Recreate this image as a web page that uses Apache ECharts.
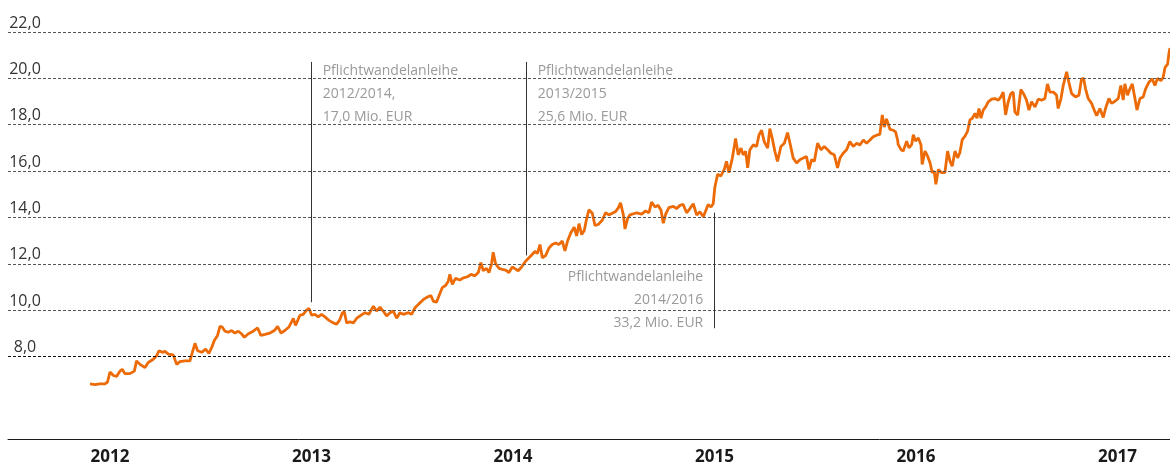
<!DOCTYPE html>
<html>
<head>
<meta charset="utf-8">
<script src="https://cdn.jsdelivr.net/npm/echarts@6/dist/echarts.min.js"></script>
<style>
html, body { margin: 0; padding: 0; background: #fff; }
#container { width: 1170px; height: 466px; }
</style>
</head>
<body>
<div id="container"></div>
<script>
// Kursverlauf, x als Dezimaljahr
const years = [
    2011.901, 2011.926, 2011.950, 2011.975, 2011.988, 2012.000, 2012.017, 2012.033, 2012.050, 2012.061,
    2012.074, 2012.099, 2012.121, 2012.132, 2012.149, 2012.174, 2012.190, 2012.215, 2012.232, 2012.243,
    2012.260, 2012.273, 2012.290, 2012.314, 2012.331, 2012.347, 2012.372, 2012.397, 2012.409, 2012.422,
    2012.435, 2012.455, 2012.475, 2012.491, 2012.505, 2012.518, 2012.534, 2012.546, 2012.557, 2012.571,
    2012.587, 2012.604, 2012.620, 2012.637, 2012.653, 2012.667, 2012.687, 2012.711, 2012.733, 2012.749,
    2012.769, 2012.794, 2012.816, 2012.832, 2012.849, 2012.868, 2012.888, 2012.910, 2012.921, 2012.943,
    2012.959, 2012.976, 2012.988, 2013.001, 2013.017, 2013.034, 2013.050, 2013.067, 2013.087, 2013.108,
    2013.125, 2013.141, 2013.153, 2013.163, 2013.175, 2013.191, 2013.208, 2013.224,
    2013.241, 2013.266, 2013.285, 2013.307, 2013.323, 2013.340, 2013.356, 2013.373, 2013.390, 2013.406,
    2013.423, 2013.439, 2013.456, 2013.481, 2013.497, 2013.514, 2013.533, 2013.555, 2013.572, 2013.593,
    2013.605, 2013.621, 2013.638, 2013.649, 2013.666, 2013.679, 2013.687, 2013.699, 2013.715, 2013.737,
    2013.754, 2013.775, 2013.792, 2013.811, 2013.828, 2013.841, 2013.853, 2013.869, 2013.881, 2013.894,
    2013.902, 2013.914, 2013.931, 2013.947, 2013.964, 2013.980, 2013.997, 2014.010, 2014.026, 2014.043,
    2014.060, 2014.076, 2014.093, 2014.109, 2014.122, 2014.134, 2014.146, 2014.162, 2014.179, 2014.195,
    2014.212, 2014.228, 2014.245, 2014.258, 2014.271, 2014.288, 2014.304, 2014.316, 2014.328, 2014.341,
    2014.354, 2014.366, 2014.377, 2014.394, 2014.407, 2014.424, 2014.443, 2014.460, 2014.476, 2014.493,
    2014.510, 2014.523, 2014.534, 2014.548, 2014.556, 2014.569, 2014.581,
    2014.589, 2014.614, 2014.639, 2014.658, 2014.675, 2014.688, 2014.705, 2014.721, 2014.735, 2014.746,
    2014.758, 2014.774, 2014.796, 2014.812, 2014.829, 2014.845, 2014.862, 2014.878, 2014.895, 2014.912,
    2014.928, 2014.945, 2014.961, 2014.969, 2014.983, 2014.994, 2015.002, 2015.016, 2015.032, 2015.049,
    2015.060, 2015.072, 2015.089, 2015.105, 2015.118, 2015.132, 2015.143, 2015.155, 2015.165, 2015.176,
    2015.193, 2015.209, 2015.221, 2015.234, 2015.247, 2015.264, 2015.275, 2015.287, 2015.300, 2015.313,
    2015.330, 2015.347, 2015.363, 2015.375, 2015.391, 2015.408, 2015.424, 2015.441, 2015.457, 2015.469,
    2015.482, 2015.496, 2015.512, 2015.529, 2015.545, 2015.562, 2015.578, 2015.595, 2015.611, 2015.623,
    2015.639, 2015.656, 2015.672, 2015.689, 2015.706, 2015.722, 2015.739, 2015.755, 2015.772, 2015.788,
    2015.805, 2015.821, 2015.833, 2015.843, 2015.854, 2015.871, 2015.888, 2015.899, 2015.909,
    2015.912, 2015.926, 2015.937, 2015.954, 2015.965, 2015.979, 2015.987, 2015.998, 2016.012, 2016.025,
    2016.031, 2016.045, 2016.058, 2016.070, 2016.081, 2016.091, 2016.099, 2016.111, 2016.127, 2016.144,
    2016.157, 2016.169, 2016.180, 2016.194, 2016.207, 2016.218, 2016.230, 2016.243, 2016.256, 2016.268,
    2016.280, 2016.293, 2016.303, 2016.313, 2016.323, 2016.334, 2016.346, 2016.359, 2016.376, 2016.392,
    2016.409, 2016.422, 2016.433, 2016.445, 2016.458, 2016.471, 2016.483, 2016.491, 2016.505, 2016.521,
    2016.534, 2016.549, 2016.561, 2016.574, 2016.591, 2016.607, 2016.624, 2016.640, 2016.653, 2016.665,
    2016.682, 2016.698, 2016.706, 2016.720, 2016.731, 2016.748, 2016.759, 2016.773, 2016.792, 2016.809,
    2016.822, 2016.832, 2016.842, 2016.855, 2016.872, 2016.885, 2016.897, 2016.913, 2016.930, 2016.941,
    2016.958, 2016.971, 2016.988, 2017.004, 2017.017, 2017.029, 2017.037, 2017.050, 2017.062, 2017.074,
    2017.087, 2017.097, 2017.112, 2017.128, 2017.140, 2017.156, 2017.173, 2017.186, 2017.199, 2017.216,
    2017.227, 2017.236, 2017.249, 2017.256, 2017.261
]
const prices = [
    6.82, 6.79, 6.82, 6.82, 6.90, 7.33, 7.18, 7.14, 7.37, 7.45,
    7.26, 7.26, 7.37, 7.81, 7.66, 7.52, 7.74, 7.88, 8.03, 8.25,
    8.18, 8.22, 8.10, 8.07, 7.66, 7.78, 7.81, 7.81, 8.18, 8.57,
    8.25, 8.18, 8.32, 8.13, 8.39, 8.69, 8.91, 9.30, 9.27, 9.09,
    9.05, 9.12, 9.01, 9.09, 8.98, 8.83, 8.98, 9.09, 9.23, 8.91,
    8.95, 9.01, 9.12, 9.30, 9.01, 9.12, 9.27, 9.64, 9.34, 9.78,
    9.82, 10.00, 10.07, 9.78, 9.82, 9.71, 9.82, 9.71, 9.56, 9.45,
    9.39, 9.59, 9.88, 9.93, 9.45, 9.49, 9.45, 9.64,
    9.75, 9.89, 9.82, 10.17, 9.96, 10.13, 9.96, 9.75, 9.89, 9.96,
    9.65, 9.89, 9.82, 9.89, 9.82, 10.10, 10.27, 10.45, 10.55, 10.63,
    10.38, 10.35, 10.73, 10.97, 11.06, 11.25, 11.54, 11.11, 11.37, 11.30,
    11.39, 11.44, 11.54, 11.48, 11.62, 12.05, 11.70, 11.80, 11.62, 12.00,
    12.50, 12.00, 11.80, 11.76, 11.73, 11.62, 11.86, 11.79, 11.70, 11.86,
    12.08, 12.23, 12.38, 12.53, 12.45, 12.83, 12.26, 12.35, 12.68, 12.83,
    12.90, 12.83, 12.98, 12.56, 12.98, 13.35, 13.58, 13.20, 13.73, 13.26,
    13.44, 13.95, 14.33, 14.18, 13.65, 13.70, 13.88, 14.21, 14.11, 14.18,
    14.26, 14.41, 14.63, 14.11, 13.50, 13.95, 14.11,
    14.10, 14.20, 14.14, 14.28, 14.20, 14.66, 14.45, 14.52, 14.31, 13.75,
    14.14, 14.42, 14.48, 14.38, 14.52, 14.56, 14.20, 14.38, 14.59, 14.10,
    14.24, 14.03, 14.38, 14.56, 14.45, 14.59, 15.30, 15.86, 15.79, 16.07,
    16.42, 15.93, 16.56, 17.41, 16.70, 16.99, 16.70, 16.85, 16.14, 16.92,
    17.13, 17.06, 17.55, 17.76, 17.27, 16.99, 17.83, 17.41, 16.85, 16.42,
    17.06, 17.20, 17.66, 17.20, 16.56, 16.35, 16.49, 16.56, 16.63, 16.07,
    16.49, 16.42, 17.20, 16.92, 17.06, 16.92, 16.77, 16.70, 16.14, 16.56,
    16.77, 16.92, 17.27, 17.06, 17.20, 17.13, 17.34, 17.20, 17.34, 17.48,
    17.55, 17.58, 18.42, 17.90, 18.25, 17.80, 17.76, 17.69, 17.34,
    17.14, 16.93, 16.86, 17.29, 17.00, 17.14, 17.57, 17.29, 17.43, 17.14,
    16.29, 16.86, 16.64, 16.36, 15.93, 16.00, 15.43, 16.07, 15.93, 15.93,
    16.86, 16.43, 16.21, 16.86, 16.57, 16.79, 17.36, 17.50, 17.71, 18.21,
    18.28, 18.49, 18.28, 18.70, 18.28, 18.63, 18.77, 18.99, 19.10, 19.13,
    19.06, 19.20, 19.41, 18.42, 18.99, 19.34, 19.41, 18.56, 18.42, 19.52,
    19.34, 19.06, 18.63, 18.99, 18.77, 19.10, 19.06, 19.13, 19.76, 19.41,
    19.41, 19.27, 18.70, 19.13, 19.69, 20.28, 19.83, 19.34, 19.20, 19.27,
    19.97, 20.00, 19.55, 19.13, 18.92, 18.63, 18.39, 18.70, 18.31, 18.70,
    19.13, 18.92, 19.01, 19.13, 19.69, 19.06, 19.76, 19.27, 19.55, 19.76,
    19.13, 18.63, 19.13, 19.20, 19.55, 19.83, 19.97, 19.69, 20.00, 19.90,
    20.04, 20.46, 20.61, 21.10, 21.31
]
const yearTicks = [2012, 2013, 2014, 2015, 2016, 2017]
const gridValues = [8, 10, 12, 14, 16, 18, 20, 22]

// Pflichtwandelanleihen: Position (Jahr), Linie von/bis (Kurs), Text
const noteYears = [2013.001, 2014.068, 2014.999]
const noteTops = [20.71, 20.71, 14.21]
const noteBottoms = [10.34, 12.36, 9.22]
const noteTexts = [
    'Pflichtwandelanleihe\n2012/2014,\n17,0 Mio. EUR',
    'Pflichtwandelanleihe\n2013/2015\n25,6 Mio. EUR',
    'Pflichtwandelanleihe\n2014/2016\n33,2 Mio. EUR'
]

const fontFamily = '"Open Sans", "Noto Sans", sans-serif'
const fmt = v => v.toFixed(1).replace('.', ',')

let lineData = years.map((y, i) => [y, prices[i]])

let noteLines = noteYears.map((x, i) => [
    { coord: [x, noteTops[i]] },
    { coord: [x, noteBottoms[i]] }
])
let notePoints = noteYears.map((x, i) => {
    let leftSide = i === 2
    return {
        coord: leftSide ? [x, noteBottoms[i]] : [x, noteTops[i]],
        label: {
            formatter: noteTexts[i],
            position: leftSide ? [-11, 6] : [11, -2],
            align: leftSide ? 'right' : 'left',
            verticalAlign: leftSide ? 'bottom' : 'top'
        }
    }
})

let options = {
    animation: false,
    grid: {
        left: 8,
        right: 0,
        top: 32,
        bottom: 26
    },
    xAxis: {
        type: 'value',
        min: 2011.494,
        max: 2017.261,
        splitLine: { show: false },
        axisTick: { show: false },
        axisLine: {
            show: true,
            lineStyle: { color: '#1a1a1a', width: 1 }
        },
        axisLabel: {
            customValues: yearTicks,
            formatter: v => String(Math.round(v)),
            color: '#1a1a1a',
            fontFamily: fontFamily,
            fontWeight: 'bold',
            fontSize: 17,
            margin: 10
        }
    },
    yAxis: {
        type: 'value',
        min: 4.44,
        max: 22,
        show: false,
        splitLine: { show: false }
    },
    series: [
        {
            // gestrichelte Hilfslinien mit Beschriftung
            type: 'line',
            z: 1,
            silent: true,
            data: [],
            markLine: {
                silent: true,
                symbol: ['none', 'none'],
                label: {
                    show: true,
                    position: 'insideStartTop',
                    formatter: p => fmt(p.value),
                    color: '#333',
                    fontFamily: fontFamily,
                    fontSize: 16,
                    align: 'center',
                    distance: [17, 1]
                },
                lineStyle: {
                    type: [3, 2],
                    color: '#555',
                    width: 1
                },
                data: gridValues.map(v => ({
                    yAxis: v,
                    lineStyle: { color: v === 8 ? '#111' : '#555' }
                }))
            }
        },
        {
            // Markierungen der Anleihen
            type: 'line',
            z: 2,
            silent: true,
            data: [],
            markLine: {
                silent: true,
                symbol: ['none', 'none'],
                label: { show: false },
                lineStyle: { type: 'solid', color: '#333', width: 1 },
                data: noteLines
            },
            markPoint: {
                silent: true,
                symbol: 'circle',
                symbolSize: 0,
                itemStyle: { color: 'transparent' },
                label: {
                    show: true,
                    color: '#9a9a9a',
                    fontFamily: fontFamily,
                    fontSize: 14,
                    lineHeight: 23
                },
                data: notePoints
            }
        },
        {
            name: 'Aktie',
            type: 'line',
            z: 3,
            data: lineData,
            showSymbol: false,
            symbol: 'none',
            lineStyle: {
                color: '#ec6b07',
                width: 2.8
            }
        }
    ]
}

let mychart = echarts.init(document.getElementById('container'))
mychart.setOption(options)
window.addEventListener('resize', () => { mychart.resize() })
</script>
</body>
</html>
